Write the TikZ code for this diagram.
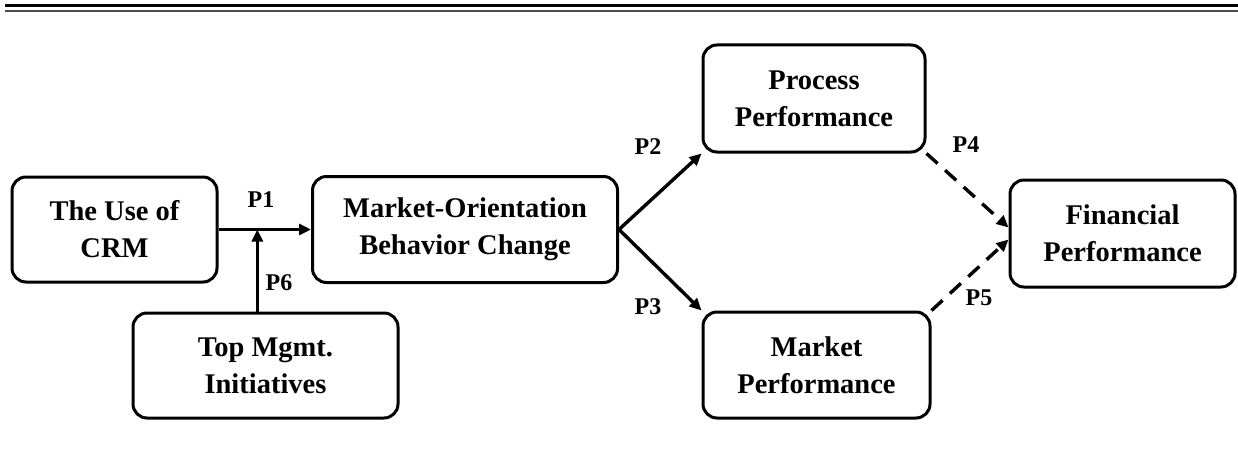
\documentclass[tikz,border=0pt]{standalone}
\usepackage{fontspec}
\setmainfont{Liberation Serif}
\usetikzlibrary{arrows.meta,calc}
\begin{document}
\begin{tikzpicture}[x=1pt,y=1pt,
  box/.style={draw, rounded corners=14pt, line width=3pt, align=center,
    inner sep=0pt, font=\bfseries\fontsize{28.5}{37}\selectfont},
  arr/.style={line width=3.4pt, -{Triangle[length=12pt,width=11pt]}},
  darr/.style={arr, dash pattern=on 15pt off 10pt},
  lbl/.style={font=\bfseries\fontsize{24}{26}\selectfont}]
\useasboundingbox (0,0) rectangle (1238,456);
\coordinate (tl1) at (5,450.5);
\coordinate (tr1) at (1238,450.5);
\coordinate (tl2) at (5,445);
\coordinate (tr2) at (1238,445);
\draw[line width=3.5pt] (tl1) -- (tr1);
\draw[line width=2.2pt, black!70] (tl2) -- (tr2);

\node[box, minimum width=205pt, minimum height=105pt] (crm) at (114.5,226.5) {The Use of\\CRM};
\node[box, minimum width=265pt, minimum height=105pt] (top) at (265.5,90.5) {Top Mgmt.\\Initiatives};
\node[box, minimum width=305pt, minimum height=106pt] (mo) at (465,226.5) {Market-Orientation\\Behavior Change};
\node[box, minimum width=222pt, minimum height=107pt] (proc) at (814,357.5) {Process\\Performance};
\node[box, minimum width=227pt, minimum height=106pt] (mkt) at (816.5,91) {Market\\Performance};
\node[box, minimum width=225pt, minimum height=107pt] (fin) at (1122.5,222.5) {Financial\\Performance};

\coordinate (j) at ($(crm.east)!0.42!(mo.west)$);
\draw[arr] (crm.east) -- (mo.west);
\draw[arr] (top.north -| j) -- (j);
\draw[arr] (mo.east) -- (proc.south west);
\draw[arr] (mo.east) -- (mkt.north west);
\draw[darr] (proc.south east) -- ($(fin.west)+(0,6)$);
\draw[darr] (mkt.north east) -- ($(fin.west)+(0,-6)$);

\node[lbl] (p1) at (261,256) {P1};
\node[lbl] (p6) at (279,173) {P6};
\node[lbl] (p2) at (648,309) {P2};
\node[lbl] (p3) at (648,149) {P3};
\node[lbl] (p4) at (966,311) {P4};
\node[lbl] (p5) at (979,158) {P5};
\end{tikzpicture}
\end{document}
